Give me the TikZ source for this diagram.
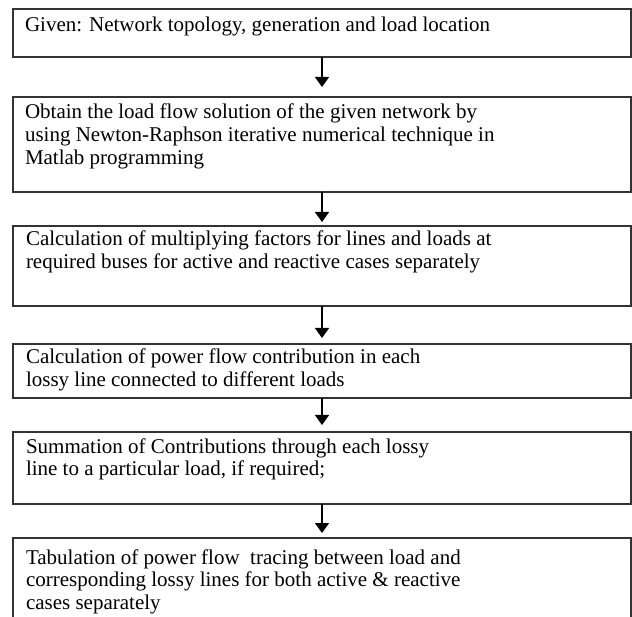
\documentclass[tikz,border=0pt]{standalone}
\usepackage{fontspec}
\setmainfont{Liberation Serif}
\usetikzlibrary{arrows.meta}
\newcommand\fstrut{\rule{0pt}{17pt}}
\begin{document}
\begin{tikzpicture}[x=1pt,y=-1pt,
  boxstyle/.style={draw=black!80, line width=1.6pt, rectangle, inner sep=0pt, outer sep=0pt, minimum width=618pt, anchor=north west},
  txt/.style={anchor=north west, inner sep=0pt, outer sep=0pt, align=left, font=\fontsize{21}{22.8}\selectfont},
  flow/.style={-{Triangle[width=14pt,length=10pt]}, line width=1.5pt, black}]
\useasboundingbox (0,0) rectangle (632,617);
\clip (0,0) rectangle (632,617);
\node[boxstyle, minimum height=48pt] (b1) at (13,9) {};
\node[boxstyle, minimum height=95pt] (b2) at (13,97) {};
\node[boxstyle, minimum height=80pt] (b3) at (13,226) {};
\node[boxstyle, minimum height=54pt] (b4) at (13,344) {};
\node[boxstyle, minimum height=72pt] (b5) at (13,432) {};
\node[boxstyle, minimum height=100pt] (b6) at (13,538) {};
\node[txt] (t1) at (25,15) {\fstrut Given: Network topology, generation and load location};
\node[txt] (t2) at (25,102) {\fstrut Obtain the load flow solution of the given network by\\using Newton-Raphson iterative numerical technique in\\Matlab programming};
\node[txt] (t3) at (26,229) {\fstrut Calculation of multiplying factors for lines and loads at\\required buses for active and reactive cases separately};
\node[txt] (t4) at (26,347) {\fstrut Calculation of power flow contribution in each\\lossy line connected to different loads};
\node[txt] (t5) at (26,436) {\fstrut Summation of Contributions through each lossy\\line to a particular load, if required;};
\node[txt] (t6) at (26,547) {\fstrut Tabulation of power flow~ tracing between load and\\corresponding lossy lines for both active \& reactive\\cases separately};
\draw[flow, shorten >=10pt] (b1.south) -- (b2.north);
\draw[flow, shorten >=4pt] (b2.south) -- (b3.north);
\draw[flow, shorten >=6pt] (b3.south) -- (b4.north);
\draw[flow, shorten >=7pt] (b4.south) -- (b5.north);
\draw[flow, shorten >=5pt] (b5.south) -- (b6.north);
\end{tikzpicture}
\end{document}
